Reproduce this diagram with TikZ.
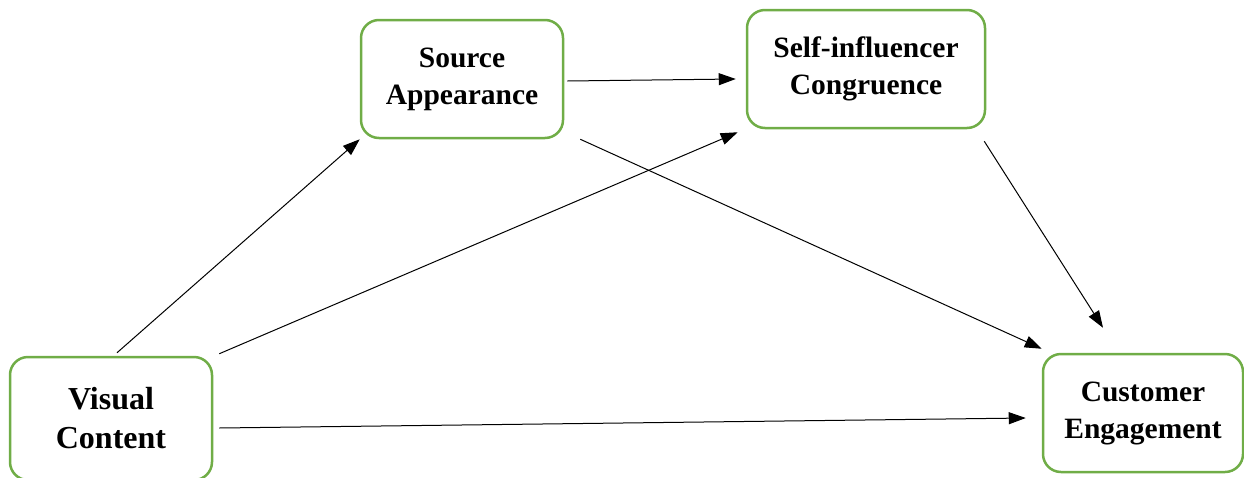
\documentclass[tikz,border=0pt]{standalone}
\usepackage{fontspec}
\setmainfont{Liberation Serif}
\usepackage{tikz}
\usetikzlibrary{arrows.meta,positioning}
\definecolor{boxgreen}{RGB}{112,173,71}

\begin{document}
\begin{tikzpicture}[x=1pt,y=-1pt,
    every node/.style={font=\fontsize{29.5}{37}\selectfont\bfseries},
    construct/.style={draw=boxgreen,line width=2.5pt,rounded corners=18pt,align=center,inner sep=0pt},
    link/.style={line width=1pt,-{Triangle[length=17pt,width=12pt]}}]
        \useasboundingbox (0,0) rectangle (1244,477);
        % constructs
        \node[construct,font=\fontsize{32}{39}\selectfont\bfseries,minimum width=202pt,minimum height=123pt] (visual) at (111,418.5) {Visual\\Content};
        \node[construct,minimum width=202pt,minimum height=118pt] (source) at (462,79) {Source\\Appearance};
        \node[construct,minimum width=238pt,minimum height=118pt] (congruence) at (866,69) {Self-influencer\\Congruence};
        \node[construct,minimum width=200pt,minimum height=118pt] (engagement) at (1143,413) {Customer\\Engagement};
        % paths
        \draw[link] ([xshift=6pt,yshift=3pt]visual.north) -- (source.south west);
        \draw[link] ([xshift=6pt,yshift=2pt]visual.north east) -- ([xshift=-8pt,yshift=-3pt]congruence.south west);
        \draw[link] ([xshift=6pt,yshift=-9.5pt]visual.east) -- ([xshift=-16pt,yshift=-5pt]engagement.west);
        \draw[link] ([xshift=3pt,yshift=-2pt]source.east) -- ([xshift=-10pt,yshift=-10pt]congruence.west);
        \draw[link] ([xshift=16pt]source.south east) -- ([yshift=4pt]engagement.north west);
        \draw[link] ([xshift=-2pt,yshift=-12pt]congruence.south east) -- ([xshift=-40pt,yshift=25pt]engagement.north);
      \end{tikzpicture}
\end{document}
